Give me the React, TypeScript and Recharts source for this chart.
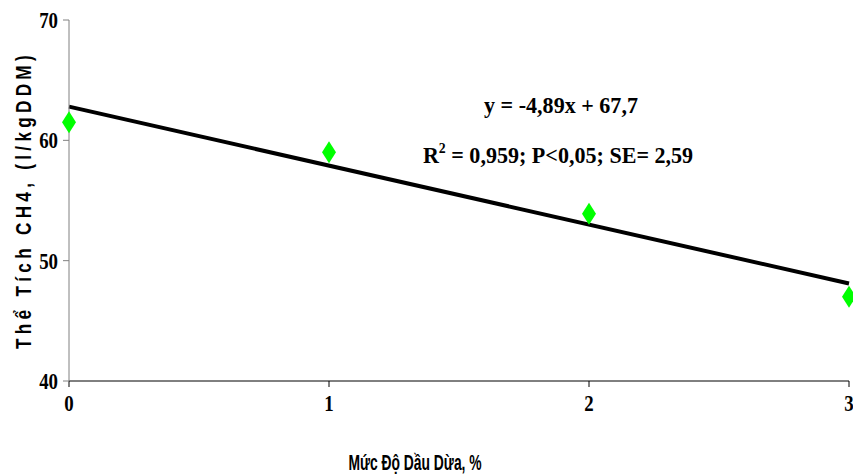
import { ComposedChart, Scatter, XAxis, YAxis, ReferenceLine, Label } from 'recharts'

const levels = [0, 1, 2, 3]
const ch4 = [61.5, 59.0, 53.9, 47.0]
const fitX = [0, 3]
const fitY = [62.8, 48.1]
const xTicks = [0, 1, 2, 3]
const yTicks = [40, 50, 60, 70]

const points = levels.map((x, i) => ({ x, y: ch4[i] }))

const serif = "'Liberation Serif', 'Times New Roman', serif"
const sans = "'Liberation Sans', Arial, sans-serif"

function Diamond(props: any) {
  const { cx, cy } = props
  return (
    <path
      d={`M${cx},${cy - 11} L${cx + 7},${cy} L${cx},${cy + 11} L${cx - 7},${cy} Z`}
      fill="#00FF00"
    />
  )
}

// times bold, squeezed a bit like the original
function XTick(props: any) {
  const { x, y, payload } = props
  return (
    <text
      transform={`translate(${x},${y + 24}) scale(0.82,1)`}
      textAnchor="middle"
      fontSize={23}
      fontWeight="bold"
      fontFamily={serif}
      fill="#000"
    >
      {payload.value}
    </text>
  )
}

function YTick(props: any) {
  const { x, y, payload } = props
  return (
    <text
      transform={`translate(${x + 1},${y + 8}) scale(0.82,1)`}
      textAnchor="end"
      fontSize={23}
      fontWeight="bold"
      fontFamily={serif}
      fill="#000"
    >
      {payload.value}
    </text>
  )
}

export default function App() {
  return (
    <div style={{ position: 'absolute', left: 0, top: 0, width: 853, height: 476, background: '#fff' }}>
      <ComposedChart width={853} height={476} margin={{ top: 20, right: 4, left: 9, bottom: 55 }}>
        <XAxis
          dataKey="x"
          type="number"
          domain={[0, 3]}
          ticks={xTicks}
          tickSize={6}
          tickMargin={0}
          stroke="#000"
          tick={XTick}
          height={40}
        >
          <Label
            content={() => (
              <text
                transform="translate(415,470) scale(0.63,1)"
                textAnchor="middle"
                fontSize={22}
                fontWeight="bold"
                fontFamily={sans}
                fill="#000"
              >
                Mức Độ Dầu Dừa, %
              </text>
            )}
          />
        </XAxis>
        <YAxis
          dataKey="y"
          type="number"
          domain={[40, 70]}
          ticks={yTicks}
          tickSize={6}
          tickMargin={6}
          stroke="#808080"
          tick={YTick}
          width={60}
        >
          <Label
            content={() => (
              <text
                transform="translate(31,200) rotate(-90) scale(0.78,1)"
                textAnchor="middle"
                fontSize={22}
                fontWeight="bold"
                fontFamily={sans}
                letterSpacing={5.5}
                fill="#000"
              >
                Thể Tích CH4, (l/kgDDM)
              </text>
            )}
          />
        </YAxis>
        <ReferenceLine
          segment={[
            { x: fitX[0], y: fitY[0] },
            { x: fitX[1], y: fitY[1] },
          ]}
          stroke="#000"
          strokeWidth={4}
        />
        <Scatter data={points} dataKey="y" shape={Diamond} isAnimationActive={false} />
      </ComposedChart>
      <svg width={853} height={476} style={{ position: 'absolute', left: 0, top: 0, pointerEvents: 'none' }}>
        <g fontFamily={serif} fontWeight="bold" fill="#000" textAnchor="middle">
          <text transform="translate(561,113) scale(0.92,1)" fontSize={24}>
            y = -4,89x + 67,7
          </text>
          <text transform="translate(558,163) scale(0.92,1)" fontSize={24}>
            R<tspan fontSize={15} dy={-10}>2</tspan>
            <tspan dy={10}> = 0,959; P&lt;0,05; SE= 2,59</tspan>
          </text>
        </g>
      </svg>
    </div>
  )
}
